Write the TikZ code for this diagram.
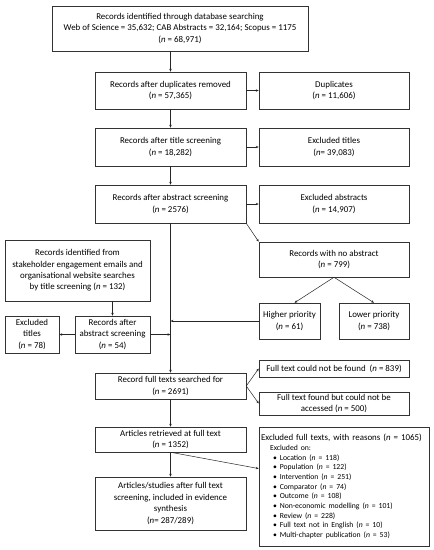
\documentclass[tikz,border=0pt]{standalone}
\usepackage{fontspec}
\setmainfont{Carlito}
\usetikzlibrary{arrows.meta,calc}
\newcommand{\nn}{\textit{n}}
\begin{document}
\begin{tikzpicture}[x=1pt,y=-1pt,
  box/.style={draw=black!80, line width=0.5pt, align=center, inner sep=1pt,
    font=\fontsize{8.9}{11.4}\selectfont},
  arr/.style={draw=black!85, line width=0.5pt, -{Stealth[length=3pt,width=2.4pt]}},
  ln/.style={draw=black!85, line width=0.5pt}]
\useasboundingbox (0,0) rectangle (434,550);
\fill[white] (0,0) rectangle (434,550);
\node[box, minimum width=256pt, minimum height=45pt] (top) at (180,28.5)
  {Records identified through database searching\\Web of Science = 35,632; CAB Abstracts = 32,164; Scopus = 1175\\(\nn{} = 68,971)};
\node[box, minimum width=151pt, minimum height=37pt] (dup) at (170.5,90.5)
  {Records after duplicates removed\\(\nn{} = 57,365)};
\node[box, minimum width=150pt, minimum height=37pt] (dups) at (334,90.5)
  {Duplicates\\(\nn{} = 11,606)};
\node[box, minimum width=151pt, minimum height=38pt] (title) at (170.5,147)
  {Records after title screening\\(\nn{} = 18,282)};
\node[box, minimum width=150pt, minimum height=38pt] (extitles) at (334,147)
  {Excluded titles\\(\nn{}= 39,083)};
\node[box, minimum width=151pt, minimum height=38pt] (abstract) at (170.5,204)
  {Records after abstract screening\\(\nn{} = 2576)};
\node[box, minimum width=150pt, minimum height=38pt] (exabs) at (334,204)
  {Excluded abstracts\\(\nn{} = 14,907)};
\node[box, minimum width=150pt, minimum height=35pt] (noabs) at (334,259.5)
  {Records with no abstract\\(\nn{} = 799)};
\node[box, minimum width=145pt, minimum height=61pt] (stake) at (77.5,270.5)
  {Records identified from\\stakeholder engagement emails and\\organisational website searches\\by title screening (\nn{} = 132)};
\node[box, minimum width=61pt, minimum height=36pt] (higher) at (289.5,321)
  {Higher priority\\(\nn{} = 61)};
\node[box, minimum width=70pt, minimum height=36pt] (lower) at (374,321)
  {Lower priority\\(\nn{} = 738)};
\node[box, minimum width=54pt, minimum height=37pt] (exleft) at (32,334.5)
  {Excluded\\titles\\(\nn{} = 78)};
\node[box, minimum width=75pt, minimum height=37pt] (recleft) at (112.5,334.5)
  {Records after\\abstract screening\\(\nn{} = 54)};
\node[box, minimum width=150pt, minimum height=17pt] (notfound) at (334,368.5)
  {Full text could not be found~ (\nn{} = 839)};
\node[box, minimum width=151pt, minimum height=26pt] (fullsearch) at (170.5,386)
  {Record full texts searched for\\(\nn{} = 2691)};
\node[box, minimum width=150pt, minimum height=23pt] (notacc) at (334,403.5)
  {Full text found but could not be\\accessed (\nn{} = 500)};
\node[box, minimum width=151pt, minimum height=25pt] (retrieved) at (170.5,439.5)
  {Articles retrieved at full text\\(\nn{} = 1352)};
\node[box, minimum width=151pt, minimum height=53pt] (final) at (170.5,503.5)
  {Articles/studies after full text\\screening, included in evidence\\synthesis\\(\nn{}= 287/289)};
\node[box, minimum width=170pt, minimum height=119pt, text width=166pt, align=left] (exfull) at (344,486.5)
  {Excluded full texts, with reasons (\nn{} = 1065)\\
  {\fontsize{7.7}{9.7}\selectfont
  \hspace*{9pt}Excluded on:\\
  \hspace*{12pt}• Location (\nn{} = 118)\\
  \hspace*{12pt}• Population (\nn{} = 122)\\
  \hspace*{12pt}• Intervention (\nn{} = 251)\\
  \hspace*{12pt}• Comparator (\nn{} = 74)\\
  \hspace*{12pt}• Outcome (\nn{} = 108)\\
  \hspace*{12pt}• Non-economic modelling (\nn{} = 101)\\
  \hspace*{12pt}• Review (\nn{} = 228)\\
  \hspace*{12pt}• Full text not in English (\nn{} = 10)\\
  \hspace*{12pt}• Multi-chapter publication (\nn{} = 53)\par}};
% connectors
\draw[arr] (top.south -| dup.north) -- (dup.north);
\draw[arr] (dup.east) -- (dups.west);
\draw[arr] (dup.south) -- (title.north);
\draw[arr] (title.east) -- (extitles.west);
\draw[arr] (title.south) -- (abstract.north);
\draw[arr] (abstract.east) -- (exabs.west);
\draw[arr] (abstract.south east) -- (noabs.north west);
\draw[arr] (abstract.south) -- (fullsearch.north);
\draw[arr] (noabs.south) -- ($(higher.north)+(5,0)$);
\draw[arr] (noabs.south) -- (lower.north);
\draw[arr] (higher.west) -- (higher.west -| abstract.south);
\draw[arr] (recleft.north |- stake.south) -- (recleft.north);
\draw[arr] (recleft.east) -- (recleft.east -| abstract.south);
\draw[arr] (recleft.west) -- (exleft.east);
\draw[arr] (fullsearch.east) -- (notfound.west);
\draw[arr] (fullsearch.east) -- (notacc.west);
\draw[arr] (fullsearch.south) -- (retrieved.north);
\draw[arr] (retrieved.south) -- ($(exfull.north west)!0.35!(exfull.south west)$);
\draw[arr] (retrieved.south) -- (final.north);
\end{tikzpicture}
\end{document}
